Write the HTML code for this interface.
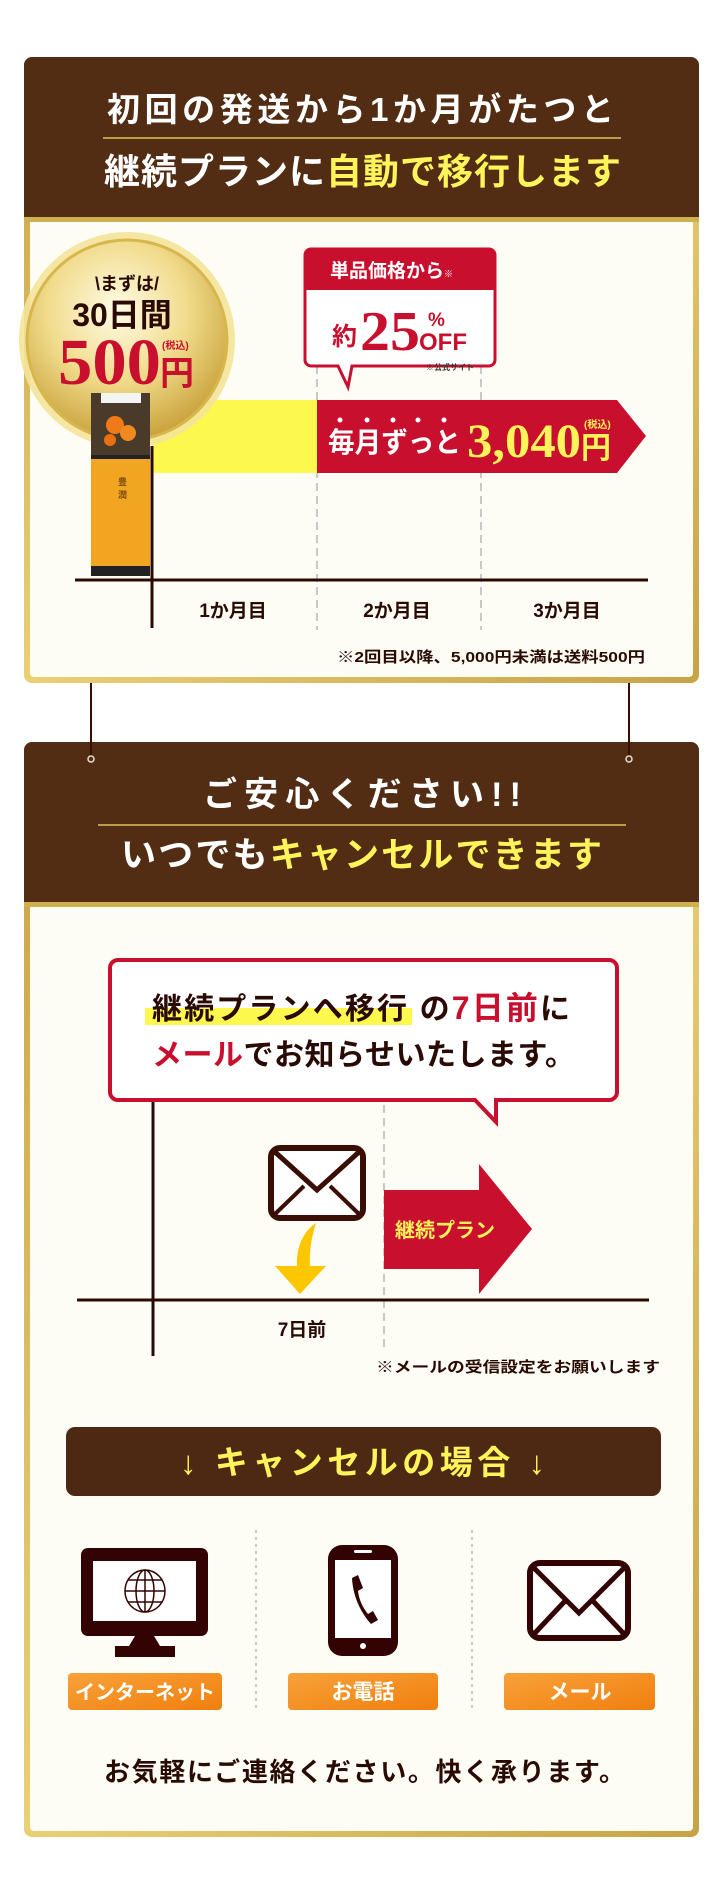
<!DOCTYPE html>
<html><head><meta charset="utf-8"><style>
html,body{margin:0;padding:0;background:#fff;}
svg{display:block;}
text{font-family:"Liberation Sans","Noto Sans CJK JP",sans-serif;font-weight:bold;}
.serif{font-family:"Liberation Serif","Noto Serif CJK SC",serif;}
</style></head><body>
<svg width="720" height="1900" viewBox="0 0 720 1900" xmlns="http://www.w3.org/2000/svg">
<defs>
<linearGradient id="gold" x1="0" y1="0" x2="1" y2="1">
<stop offset="0" stop-color="#c9a245"/><stop offset="0.5" stop-color="#e9d075"/><stop offset="1" stop-color="#c6a346"/>
</linearGradient>
<radialGradient id="medal" cx="0.45" cy="0.35" r="0.7">
<stop offset="0" stop-color="#fffbe6"/><stop offset="0.5" stop-color="#f1dc8c"/><stop offset="1" stop-color="#c49a30"/>
</radialGradient>
<linearGradient id="btn" x1="0" y1="0" x2="1" y2="1">
<stop offset="0" stop-color="#f8a23a"/><stop offset="1" stop-color="#f07f0e"/>
</linearGradient>
</defs>

<line x1="91" y1="680" x2="91" y2="758" stroke="#3a0d05" stroke-width="2"/>
<line x1="629" y1="680" x2="629" y2="758" stroke="#3a0d05" stroke-width="2"/>

<!-- PANEL 1 -->
<rect x="24" y="57" width="675" height="626" rx="8" fill="url(#gold)"/>
<rect x="30" y="63" width="663" height="614" rx="4" fill="#fefdf5"/>
<path d="M32 57 H691 a8 8 0 0 1 8 8 V217 H24 V65 a8 8 0 0 1 8 -8z" fill="#522d14"/>
<rect x="24" y="217" width="675" height="5" fill="#cfb04f"/>
<text x="107" y="121" font-size="33" fill="#fff" textLength="507" lengthAdjust="spacing">初回の発送から1か月がたつと</text>
<line x1="103" y1="138" x2="621" y2="138" stroke="#d9c35a" stroke-width="1.5"/>
<text x="104" y="184" font-size="36" fill="#fff" textLength="517" lengthAdjust="spacing">継続プランに<tspan fill="#fff45a">自動で移行します</tspan></text>

<line x1="317" y1="366" x2="317" y2="630" stroke="#c8c8c8" stroke-width="2" stroke-dasharray="8,5"/>
<line x1="481" y1="366" x2="481" y2="630" stroke="#c8c8c8" stroke-width="2" stroke-dasharray="8,5"/>

<rect x="152" y="400" width="166" height="73" fill="#fdf84d"/>
<polygon points="317,400 617,400 646,436 617,473 317,473" fill="#c8102e"/>
<g fill="#fff"><circle cx="340" cy="420" r="2.5"/><circle cx="367" cy="420" r="2.5"/><circle cx="393" cy="420" r="2.5"/><circle cx="418" cy="420" r="2.5"/><circle cx="444" cy="420" r="2.5"/></g>
<text x="328" y="452" font-size="28" fill="#fff" textLength="133" lengthAdjust="spacingAndGlyphs">毎月ずっと</text>
<text x="467" y="457" class="serif" font-size="48" fill="#fff45a" textLength="114" lengthAdjust="spacingAndGlyphs">3,040</text>
<text x="581" y="458" font-size="30" fill="#fff45a">円</text>
<text x="584" y="428" font-size="10" fill="#fff45a">(税込)</text>

<line x1="152" y1="446" x2="152" y2="628" stroke="#2a0a04" stroke-width="3"/>
<line x1="75" y1="580" x2="648" y2="580" stroke="#2a0a04" stroke-width="3"/>
<text x="233" y="617" text-anchor="middle" font-size="19" fill="#2a0a04">1か月目</text>
<text x="397" y="617" text-anchor="middle" font-size="19" fill="#2a0a04">2か月目</text>
<text x="567" y="617" text-anchor="middle" font-size="19" fill="#2a0a04">3か月目</text>
<text x="337" y="662" font-size="15" fill="#2a0a04" textLength="308" lengthAdjust="spacingAndGlyphs">※2回目以降、5,000円未満は送料500円</text>

<path d="M311 249 H489 a6 6 0 0 1 6 6 V360 a6 6 0 0 1 -6 6 H352 L348 387 L338 366 H311 a6 6 0 0 1 -6 -6 V255 a6 6 0 0 1 6 -6z" fill="#fff" stroke="#c8102e" stroke-width="3"/>
<path d="M311 249 H489 a6 6 0 0 1 6 6 V290 H305 V255 a6 6 0 0 1 6 -6z" fill="#c8102e"/>
<text x="330" y="277" font-size="19" fill="#fff">単品価格から<tspan font-size="9">※</tspan></text>
<text x="332" y="345" font-size="25" fill="#c8102e">約</text>
<text x="360" y="350" class="serif" font-size="56" fill="#c8102e" textLength="60" lengthAdjust="spacingAndGlyphs">25</text>
<text x="428" y="326" font-size="19" fill="#c8102e">%</text>
<text x="419" y="350" font-size="24" fill="#c8102e">OFF</text>
<text x="426" y="370" font-size="8" fill="#333">※公式サイト</text>

<!-- medal -->
<circle cx="127" cy="340" r="108" fill="#f4e49a" opacity="0.9"/>
<circle cx="127" cy="340" r="100" fill="url(#medal)" stroke="#d8b64e" stroke-width="3"/>
<text x="127" y="290" text-anchor="middle" font-size="18" fill="#2a0a04">\まずは/</text>
<text x="122" y="326" text-anchor="middle" font-size="32" fill="#2a0a04">30日間</text>
<text x="58" y="384" class="serif" font-size="66" fill="#c8102e" textLength="103" lengthAdjust="spacingAndGlyphs">500</text>
<text x="160" y="385" font-size="34" fill="#c8102e">円</text>
<text x="162" y="349" font-size="10" fill="#c8102e">(税込)</text>

<!-- product -->
<rect x="91" y="393" width="59" height="183" rx="2" fill="#f2a521"/>
<rect x="91" y="393" width="59" height="62" fill="#4a3a2a"/>
<rect x="101" y="393" width="40" height="10" fill="#f4f4f4"/>
<circle cx="115" cy="425" r="9" fill="#f07a18"/><circle cx="128" cy="433" r="8" fill="#f08a20"/><circle cx="110" cy="440" r="6" fill="#e87010"/>
<rect x="91" y="455" width="59" height="4" fill="#222"/>
<rect x="91" y="566" width="59" height="10" fill="#222"/>
<text x="118" y="485" font-size="9" fill="#7a4a10" font-weight="normal">豊</text>
<text x="118" y="498" font-size="9" fill="#7a4a10" font-weight="normal">潤</text>

<!-- PANEL 2 -->
<rect x="24" y="742" width="675" height="1095" rx="8" fill="url(#gold)"/>
<rect x="30" y="748" width="663" height="1083" rx="4" fill="#fefdf5"/>
<path d="M32 742 H691 a8 8 0 0 1 8 8 V902 H24 V750 a8 8 0 0 1 8 -8z" fill="#522d14"/>
<rect x="24" y="902" width="675" height="5" fill="#cfb04f"/>
<line x1="91" y1="742" x2="91" y2="756" stroke="#3a0d05" stroke-width="2"/>
<line x1="629" y1="742" x2="629" y2="756" stroke="#3a0d05" stroke-width="2"/>
<circle cx="91" cy="759" r="3" fill="none" stroke="#e8e0d0" stroke-width="1.5"/>
<circle cx="629" cy="759" r="3" fill="none" stroke="#e8e0d0" stroke-width="1.5"/>
<text x="203" y="806" font-size="34" fill="#fff" textLength="318" lengthAdjust="spacing">ご安心ください!!</text>
<line x1="98" y1="825" x2="626" y2="825" stroke="#d9c35a" stroke-width="1.5"/>
<text x="121" y="867" font-size="35" fill="#fff" textLength="481" lengthAdjust="spacing">いつでも<tspan fill="#fff45a">キャンセルできます</tspan></text>

<line x1="384" y1="1105" x2="384" y2="1352" stroke="#c8c8c8" stroke-width="2" stroke-dasharray="8,5"/>
<line x1="153" y1="1100" x2="153" y2="1356" stroke="#2a0a04" stroke-width="3"/>
<path d="M118 960 H609 a8 8 0 0 1 8 8 V1092 a8 8 0 0 1 -8 8 H496 V1122 L475 1100 H118 a8 8 0 0 1 -8 -8 V968 a8 8 0 0 1 8 -8z" fill="#fff" stroke="#c8102e" stroke-width="4"/>
<rect x="145" y="1008" width="267" height="17" fill="#fdf84d"/>
<text x="152" y="1019" font-size="30" fill="#2a0a04" textLength="418" lengthAdjust="spacing">継続プランへ移行 の<tspan fill="#c8102e" font-size="32">7日前</tspan>に</text>
<text x="152" y="1065" font-size="30" fill="#2a0a04" textLength="423" lengthAdjust="spacing"><tspan fill="#c8102e">メール</tspan>でお知らせいたします。</text>

<rect x="271" y="1148" width="92" height="70" rx="9" fill="#fff" stroke="#3a0d05" stroke-width="6"/>
<polyline points="275,1152 317,1190 359,1152" fill="none" stroke="#3a0d05" stroke-width="5"/>
<line x1="274" y1="1215" x2="304" y2="1186" stroke="#3a0d05" stroke-width="4"/>
<line x1="360" y1="1215" x2="330" y2="1186" stroke="#3a0d05" stroke-width="4"/>
<path d="M316 1223 C302 1232 296 1250 297 1266 L275 1266 L300 1294 L326 1266 L310 1266 C309 1250 312 1236 316 1223z" fill="#fcc600"/>
<polygon points="384,1190 479,1190 479,1164 532,1229 479,1294 479,1269 384,1269" fill="#c8102e"/>
<text x="395" y="1237" font-size="20" fill="#fff45a">継続プラン</text>

<line x1="77" y1="1300" x2="649" y2="1300" stroke="#2a0a04" stroke-width="3"/>
<text x="302" y="1336" text-anchor="middle" font-size="19" fill="#2a0a04">7日前</text>
<text x="376" y="1372" font-size="15" fill="#2a0a04" textLength="284" lengthAdjust="spacingAndGlyphs">※メールの受信設定をお願いします</text>

<rect x="66" y="1427" width="595" height="69" rx="9" fill="#4d2813"/>
<text x="180" y="1474" font-size="33" fill="#fff45a" textLength="365" lengthAdjust="spacing">↓ キャンセルの場合 ↓</text>

<line x1="256" y1="1530" x2="256" y2="1709" stroke="#c8c8c8" stroke-width="2" stroke-dasharray="3,4"/>
<line x1="472" y1="1530" x2="472" y2="1709" stroke="#c8c8c8" stroke-width="2" stroke-dasharray="3,4"/>

<rect x="81" y="1548" width="127" height="88" rx="7" fill="#330303"/>
<rect x="93" y="1561" width="103" height="60" fill="#fff"/>
<polygon points="135,1636 154,1636 160,1646 129,1646" fill="#330303"/>
<rect x="115" y="1646" width="60" height="11" fill="#330303"/>
<g fill="none" stroke="#330303" stroke-width="1.5">
<ellipse cx="145" cy="1591" rx="20" ry="21"/><ellipse cx="145" cy="1591" rx="9" ry="21"/>
<line x1="145" y1="1570" x2="145" y2="1612"/><line x1="125" y1="1591" x2="165" y2="1591"/>
<line x1="128" y1="1580" x2="162" y2="1580"/><line x1="128" y1="1602" x2="162" y2="1602"/></g>

<rect x="328" y="1545" width="70" height="111" rx="14" fill="#330303"/>
<rect x="335" y="1560" width="56" height="78" fill="#fff"/>
<rect x="354" y="1550" width="18" height="3" rx="1.5" fill="#fff"/>
<circle cx="363" cy="1646" r="3" fill="#fff"/>
<path d="M352 1578 L358 1575 L363 1588 L358 1591 C359 1600 363 1608 368 1614 L373 1611 L378 1620 L371 1624 C362 1614 353 1598 352 1578z" fill="#330303"/>

<rect x="530" y="1563" width="98" height="75" rx="10" fill="#fff" stroke="#330303" stroke-width="6"/>
<polyline points="534,1568 579,1613 624,1568" fill="none" stroke="#330303" stroke-width="5"/>
<line x1="534" y1="1634" x2="566" y2="1600" stroke="#330303" stroke-width="5"/>
<line x1="624" y1="1634" x2="592" y2="1600" stroke="#330303" stroke-width="5"/>

<rect x="68" y="1673" width="154" height="37" rx="4" fill="url(#btn)"/>
<rect x="288" y="1673" width="150" height="37" rx="4" fill="url(#btn)"/>
<rect x="504" y="1673" width="151" height="37" rx="4" fill="url(#btn)"/>
<text x="145" y="1699" text-anchor="middle" font-size="20" fill="#fff">インターネット</text>
<text x="363" y="1699" text-anchor="middle" font-size="21" fill="#fff">お電話</text>
<text x="580" y="1699" text-anchor="middle" font-size="21" fill="#fff">メール</text>

<text x="104" y="1781" font-size="26" fill="#2a0a04" textLength="521" lengthAdjust="spacing">お気軽にご連絡ください。快く承ります。</text>
</svg>
</body></html>
